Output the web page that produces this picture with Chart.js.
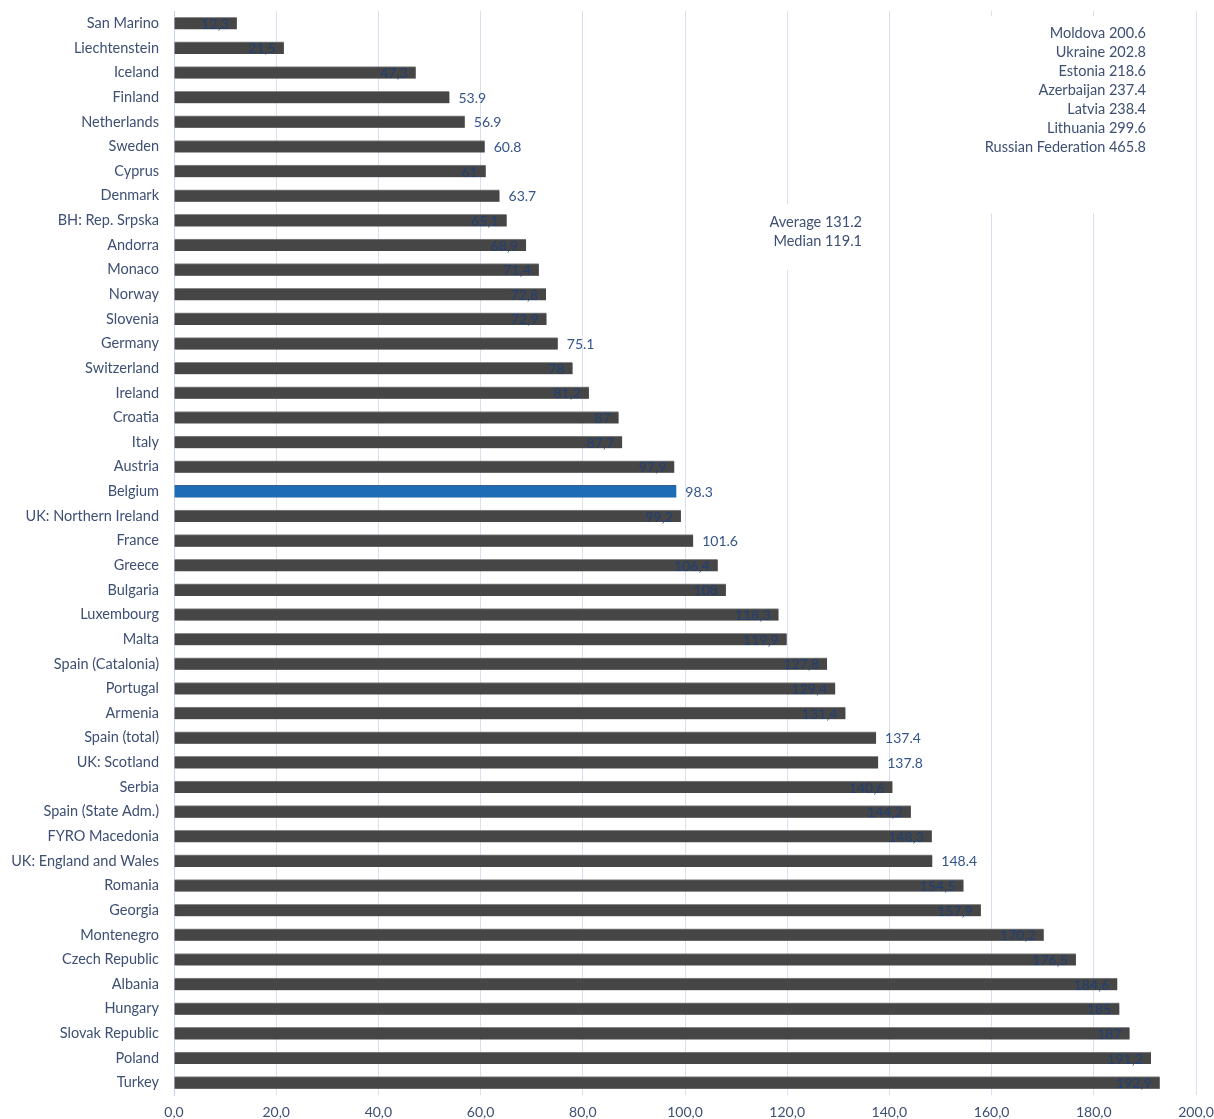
<!DOCTYPE html>
<html>
<head>
<meta charset="utf-8">
<script src="https://cdn.jsdelivr.net/npm/chart.js@4"></script>
<style>
  html, body { margin: 0; padding: 0; background: #ffffff; }
  #wrap { width: 1214px; height: 1119px; position: relative; }
</style>
</head>
<body>
<div id="wrap"><canvas id="chart"></canvas></div>
<script>
var countries = [
  "San Marino", "Liechtenstein", "Iceland", "Finland", "Netherlands", "Sweden", "Cyprus",
  "Denmark", "BH: Rep. Srpska", "Andorra", "Monaco", "Norway", "Slovenia", "Germany",
  "Switzerland", "Ireland", "Croatia", "Italy", "Austria", "Belgium", "UK: Northern Ireland",
  "France", "Greece", "Bulgaria", "Luxembourg", "Malta", "Spain (Catalonia)", "Portugal",
  "Armenia", "Spain (total)", "UK: Scotland", "Serbia", "Spain (State Adm.)", "FYRO Macedonia",
  "UK: England and Wales", "Romania", "Georgia", "Montenegro", "Czech Republic", "Albania",
  "Hungary", "Slovak Republic", "Poland", "Turkey"
];
var rates = [
  12.3, 21.5, 47.3, 53.9, 56.9, 60.8, 61,
  63.7, 65.1, 68.9, 71.4, 72.8, 72.9, 75.1,
  78, 81.2, 87, 87.7, 97.9, 98.3, 99.2,
  101.6, 106.4, 108, 118.3, 119.9, 127.8, 129.4,
  131.4, 137.4, 137.8, 140.6, 144.2, 148.3,
  148.4, 154.5, 157.9, 170.2, 176.5, 184.6,
  185, 187, 191.2, 192.9
];
// countries whose value is written after the bar (dot format)
var outsideLabels = ["Finland", "Netherlands", "Sweden", "Denmark", "Germany", "Belgium",
  "France", "Spain (total)", "UK: Scotland", "UK: England and Wales"];
var highlight = "Belgium";

var offChartNames = ["Moldova", "Ukraine", "Estonia", "Azerbaijan", "Latvia", "Lithuania", "Russian Federation"];
var offChartValues = ["200.6", "202.8", "218.6", "237.4", "238.4", "299.6", "465.8"];
var statNames = ["Average", "Median"];
var statValues = ["131.2", "119.1"];

var xTicks = { min: 0, max: 200, step: 20 };

var FONT = "Lato, 'Open Sans', sans-serif";
var TEXT = "#3d4f73";

var barColors = countries.map(function (c) { return c === highlight ? "#1d6cb5" : "#464646"; });
var barBorders = countries.map(function (c) { return c === highlight ? "#3a5f86" : "#8a8a8a"; });

var shadowPlugin = {
  id: "shadow",
  beforeDatasetDraw: function (chart) {
    var ctx = chart.ctx;
    ctx.save();
    ctx.shadowColor = "rgba(0,0,0,0.30)";
    ctx.shadowBlur = 3;
    ctx.shadowOffsetX = 2;
    ctx.shadowOffsetY = 2;
  },
  afterDatasetDraw: function (chart) {
    chart.ctx.restore();
  }
};

var valueLabels = {
  id: "valueLabels",
  afterDatasetsDraw: function (chart) {
    var ctx = chart.ctx;
    var meta = chart.getDatasetMeta(0);
    ctx.save();
    ctx.font = "14px " + FONT;
    ctx.textBaseline = "middle";
    meta.data.forEach(function (bar, i) {
      var v = rates[i];
      if (outsideLabels.indexOf(countries[i]) >= 0) {
        ctx.fillStyle = "#34548a";
        ctx.textAlign = "left";
        ctx.fillText(String(v), bar.x + 9, bar.y + 1);
      } else {
        ctx.fillStyle = "#203f73";
        ctx.textAlign = "right";
        ctx.fillText(String(v).replace(".", ","), bar.x - 8, bar.y + 1);
      }
    });
    ctx.restore();
  }
};

var notes = {
  id: "notes",
  afterDraw: function (chart) {
    var ctx = chart.ctx;
    var a = chart.chartArea;
    ctx.save();
    ctx.fillStyle = "#ffffff";
    ctx.fillRect(a.right - 225, a.top + 5, 190, 197);
    ctx.fillRect(a.left + 586, a.top + 193, 110, 66);
    ctx.font = "14.5px " + FONT;
    ctx.fillStyle = TEXT;
    ctx.textAlign = "right";
    ctx.textBaseline = "middle";
    offChartNames.forEach(function (n, i) {
      ctx.fillText(n + " " + offChartValues[i], a.right - 50, a.top + 22 + i * 19);
    });
    statNames.forEach(function (n, i) {
      ctx.fillText(n + " " + statValues[i], a.left + 688, a.top + 211 + i * 19);
    });
    ctx.restore();
  }
};

new Chart(document.getElementById("chart"), {
  type: "bar",
  data: {
    labels: countries,
    datasets: [{
      data: rates,
      backgroundColor: barColors,
      borderColor: barBorders,
      borderWidth: { top: 1, right: 0, bottom: 0, left: 0 },
      borderSkipped: false,
      barThickness: 12
    }]
  },
  options: {
    indexAxis: "y",
    responsive: true,
    maintainAspectRatio: false,
    animation: false,
    layout: { padding: { top: 11, right: 18, bottom: 0, left: 0 } },
    plugins: {
      legend: { display: false },
      tooltip: { enabled: false }
    },
    scales: {
      x: {
        min: xTicks.min,
        max: xTicks.max,
        ticks: {
          stepSize: xTicks.step,
          color: TEXT,
          font: { family: FONT, size: 14 },
          padding: 9,
          maxRotation: 0,
          callback: function (v) { return v.toFixed(1).replace(".", ","); }
        },
        grid: { color: "#d7e1f0", drawTicks: false },
        border: { display: false },
        afterFit: function (s) { s.height = 24; s.paddingLeft = 0; s.paddingRight = 0; }
      },
      y: {
        ticks: {
          color: TEXT,
          font: { family: FONT, size: 14.5 },
          padding: 7,
          autoSkip: false
        },
        grid: { display: false },
        border: { display: true, color: "#c5d3e8", width: 1 },
        afterFit: function (s) { s.width = 174; s.paddingTop = 0; s.paddingBottom = 0; }
      }
    }
  },
  plugins: [shadowPlugin, valueLabels, notes]
});
</script>
</body>
</html>
